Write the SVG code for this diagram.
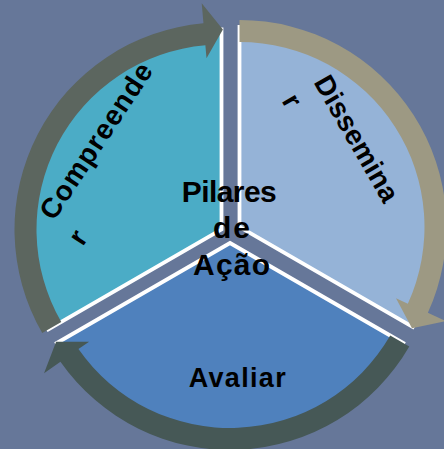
<svg xmlns="http://www.w3.org/2000/svg" width="444" height="449" viewBox="0 0 444 449">
<style>
.seg{stroke:#ffffff;stroke-width:3.8;stroke-linejoin:miter}
.lbl{font-family:"Liberation Sans",Arial,sans-serif;font-weight:bold;fill:#000000}
</style>
<rect x="0" y="0" width="444" height="449" fill="#667799"/>
<g id="node-compreender">
<path class="seg" fill="#4BACC6" d="M221.5,229.5 L221.5,29.5 A200,200 0 0 0 48.3,329.5 Z"/>
</g>
<g id="node-disseminar">
<path class="seg" fill="#95B3D7" d="M239.5,227 L239.5,27 A200,200 0 0 1 412.7,327 Z"/>
</g>
<g id="node-avaliar">
<path class="seg" fill="#4F81BD" d="M230,243 L403.2,343 A200,200 0 0 1 56.8,343 Z"/>
</g>
<g id="connectors">
<path fill="#5c665f" d="M61.29,322 A185,185 0 0 1 205.38,45.2 L206.51,58.16 L222.9,29.5 L201.72,3.36 L203.46,23.29 A207,207 0 0 0 42.23,333 Z"/>
<path fill="#9d9983" d="M239.5,42 A185,185 0 0 1 407.84,303.72 L396.01,298.33 L412,328.21 L446.06,321.13 L427.86,312.84 A207,207 0 0 0 239.5,20 Z"/>
<path fill="#465856" d="M390.22,335.5 A185,185 0 0 1 78.46,349.11 L89.11,341.66 L56.1,341.79 L44.05,373.2 L60.44,361.73 A207,207 0 0 0 409.27,346.5 Z"/>
</g>
<g id="label-compreender" transform="translate(53.9,221.8) rotate(-56.5)">
<text class="lbl" font-size="28" x="0" y="0" textLength="181">Compreende</text>
<text class="lbl" font-size="28" x="-5" y="38">r</text>
</g>
<g id="label-disseminar" transform="translate(313.3,82.3) rotate(60)">
<text class="lbl" font-size="28" x="0" y="0" textLength="141">Dissemina</text>
<text class="lbl" font-size="28" x="0" y="37">r</text>
</g>
<g id="node-center">
<text class="lbl" font-size="30" x="229.2" y="201.7" text-anchor="middle" textLength="95">Pilares</text>
<text class="lbl" font-size="30" x="231.5" y="238.3" text-anchor="middle" textLength="37">de</text>
<text class="lbl" font-size="30" x="231.5" y="275" text-anchor="middle" textLength="77">Ação</text>
</g>
<g id="label-avaliar">
<text class="lbl" font-size="27" x="237.2" y="386.7" text-anchor="middle" textLength="97">Avaliar</text>
</g>
</svg>
